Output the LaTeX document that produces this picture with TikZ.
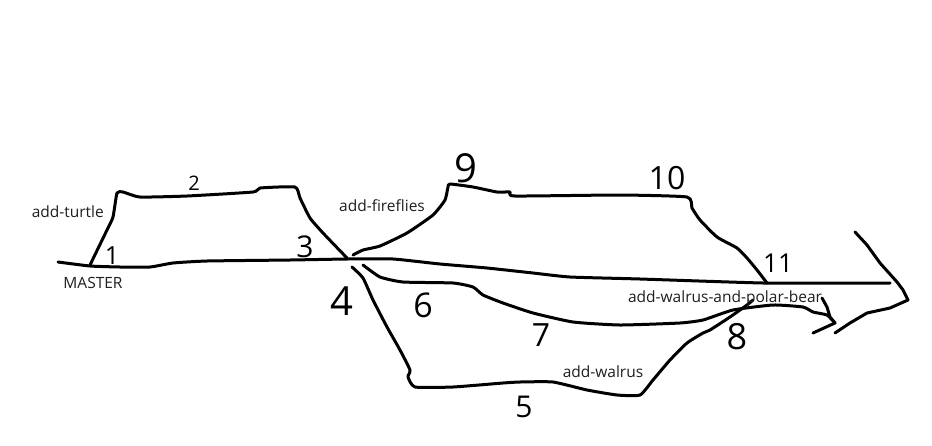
\documentclass[tikz,border=0pt]{standalone}
\usepackage{fontspec}
\setmainfont{Open Sans}
\begin{document}
\begin{tikzpicture}[x=1pt,y=-1pt,
  stroke/.style={line width=3pt, line cap=round, line join=round},
  lbl/.style={font=\fontsize{15.5}{18}\selectfont, text=black!88, inner sep=0pt},
  num/.style={font=\fontsize{#1}{#1}\selectfont, inner sep=0pt},
  num/.default=30]
\useasboundingbox[fill=white] (0,0) rectangle (932,445);

% main line (MASTER)
\draw[stroke] plot[smooth, tension=0.3] coordinates {(58,262) (90,266) (120,267) (150,267) (173,263) (207,261) (290,260) (347,259) (393,259) (440,264) (487,268) (533,273) (570,277) (640,279) (763,283) (853,283) (890,283)};

% add-turtle branch
\draw[stroke] plot[smooth, tension=0.3] coordinates {(90,265) (107,230) (113,217) (117,193) (123,192) (140,197) (187,196) (253,192) (260,188) (295,187) (300,198) (310,218) (323,233) (347,258)};

% add-fireflies branch
\draw[stroke] plot[smooth, tension=0.3] coordinates {(353,255) (363,250) (380,246) (407,233) (433,215) (445,200) (448,187) (450,184) (473,187) (497,192) (510,192) (515,196) (620,195) (687,197) (692,208) (700,220) (717,237) (737,248) (747,258) (757,270) (767,283)};

% add-walrus-and-polar-bear branch
\draw[stroke] plot[smooth, tension=0.3] coordinates {(363,265) (380,277) (403,282) (453,283) (473,287) (483,295) (503,303) (533,313) (573,322) (620,325) (680,323) (703,320) (733,310) (773,305) (803,307) (813,312) (827,315) (835,323)};
\draw[stroke] (822,298) -- (827,307) -- (830,317) -- (835,323) -- (813,333);

% add-walrus branch
\draw[stroke] plot[smooth, tension=0.3] coordinates {(352,267) (363,278) (373,300) (387,327) (400,350) (410,370) (408,377) (415,387) (453,387) (503,383) (520,382) (553,382) (587,390) (617,395) (640,395) (653,380) (670,360) (687,343) (703,333) (710,330) (730,317) (747,305) (753,300)};

% big arrow head
\draw[stroke] (855,232) -- (867,245) -- (880,263) -- (897,282) -- (903,290) -- (908,300) -- (890,308) -- (867,313) -- (850,323) -- (835,333);

% branch labels
\node[lbl, anchor=east] (turtle) at (104,212) {add-turtle};
\node[lbl] (master) at (93,283) {MASTER};
\node[lbl] (fireflies) at (382,206) {add-fireflies};
\node[lbl] (wpb) at (725,298) {add-walrus-and-polar-bear};
\node[lbl] (walrus) at (603,372) {add-walrus};

% commit numbers
\node[num=25] (n1) at (112,256) {1};
\node[num=20] (n2) at (194,183) {2};
\node[num=30] (n3) at (305,247) {3};
\node[num=40] (n4) at (342,301) {4};
\node[num=30] (n5) at (524,407) {5};
\node[num=34] (n6) at (423,305) {6};
\node[num=32] (n7) at (541,335) {7};
\node[num=36] (n8) at (737,337) {8};
\node[num=40] (n9) at (466,168) {9};
\node[num=32] (n10) at (667,178) {10};
\node[num=26] (n11) at (778,263) {11};
\end{tikzpicture}
\end{document}
